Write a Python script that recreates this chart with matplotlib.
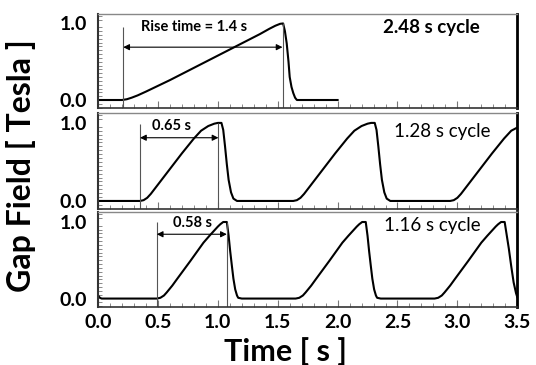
import numpy as np
import matplotlib
matplotlib.use('Agg')
import matplotlib.pyplot as plt
from matplotlib.ticker import MultipleLocator

plt.rcParams['font.family'] = ['Lato', 'DejaVu Sans']

# ── DATA ────────────────────────────────────────────────────────
# 2.48 s cycle
t1 = [0.0, 0.20, 0.24, 0.28, 0.33, 0.40, 0.60, 0.80, 1.00, 1.20, 1.35, 1.43,
      1.48, 1.52, 1.545, 1.56, 1.575, 1.59, 1.60, 1.615, 1.63, 1.645, 1.66, 2.0]
b1 = [0.0, 0.0, 0.01, 0.03, 0.06, 0.11, 0.26, 0.42, 0.58, 0.74, 0.86, 0.93,
      0.97, 0.995, 1.0, 0.90, 0.74, 0.50, 0.30, 0.17, 0.09, 0.03, 0.0, 0.0]

# 1.28 s cycle
t2 = [0.0, 0.35, 0.38, 0.41, 0.44, 0.49, 0.60, 0.70, 0.80, 0.86, 0.92, 0.97,
      1.00, 1.03, 1.045, 1.06, 1.075, 1.09, 1.11, 1.13, 1.16,
      1.63, 1.66, 1.69, 1.72, 1.77, 1.88, 1.98, 2.08, 2.14, 2.20, 2.25,
      2.28, 2.31, 2.325, 2.34, 2.355, 2.37, 2.39, 2.41, 2.44,
      2.94, 2.97, 3.00, 3.03, 3.08, 3.19, 3.29, 3.39, 3.45, 3.50]
b2 = [0.0, 0.0, 0.01, 0.04, 0.09, 0.19, 0.41, 0.61, 0.80, 0.90, 0.96, 0.99,
      1.0, 1.0, 0.91, 0.70, 0.47, 0.27, 0.11, 0.03, 0.0,
      0.0, 0.01, 0.04, 0.09, 0.19, 0.41, 0.61, 0.80, 0.90, 0.96, 0.99,
      1.0, 1.0, 0.91, 0.70, 0.47, 0.27, 0.11, 0.03, 0.0,
      0.0, 0.01, 0.04, 0.09, 0.19, 0.41, 0.61, 0.80, 0.90, 0.94]

# 1.16 s cycle
t3 = [0.0, 0.015, 0.03, 0.49, 0.52, 0.55, 0.573, 0.62, 0.657, 0.77, 0.88, 0.93,
      0.965, 1.00, 1.02, 1.045, 1.075, 1.09, 1.103, 1.117, 1.13, 1.145, 1.16,
      1.17, 1.20,
      1.65, 1.68, 1.71, 1.733, 1.78, 1.817, 1.93, 2.04, 2.09, 2.125, 2.16, 2.18,
      2.205, 2.235, 2.25, 2.263, 2.277, 2.29, 2.305, 2.32, 2.33, 2.36,
      2.81, 2.84, 2.87, 2.893, 2.94, 2.977, 3.09, 3.20, 3.25, 3.285, 3.32, 3.34,
      3.365, 3.395, 3.41, 3.43, 3.45, 3.47, 3.49, 3.50]
b3 = [0.04, 0.01, 0.0, 0.0, 0.01, 0.04, 0.08, 0.17, 0.25, 0.49, 0.73, 0.82,
      0.88, 0.94, 0.97, 1.0, 1.0, 0.82, 0.62, 0.43, 0.26, 0.12, 0.04,
      0.01, 0.0,
      0.0, 0.01, 0.04, 0.08, 0.17, 0.25, 0.49, 0.73, 0.82, 0.88, 0.94, 0.97,
      1.0, 1.0, 0.82, 0.62, 0.43, 0.26, 0.12, 0.04, 0.01, 0.0,
      0.0, 0.01, 0.04, 0.08, 0.17, 0.25, 0.49, 0.73, 0.82, 0.88, 0.94, 0.97,
      1.0, 1.0, 0.85, 0.65, 0.42, 0.21, 0.07, 0.02]

cycle_labels = ['2.48 s cycle', '1.28 s cycle', '1.16 s cycle']
rise_labels = ['Rise time = 1.4 s', '0.65 s', '0.58 s']
rise_start = [0.21, 0.35, 0.49]
rise_end = [1.54, 1.005, 1.075]
x_ticks = [0.0, 0.5, 1.0, 1.5, 2.0, 2.5, 3.0, 3.5]
y_ticks = [0.0, 1.0]

# ── LAYOUT ──────────────────────────────────────────────────────
YLO, YHI = -0.105, 1.125
panels = [  # left, bottom, width, height (figure fraction)
    (0.183, 0.704, 0.782, 0.258),
    (0.183, 0.427, 0.782, 0.263),
    (0.183, 0.160, 0.782, 0.258),
]
cyc_pos = [(2.78, 0.95, 'bold'), (2.87, 0.89, 'normal'), (2.79, 0.95, 'normal')]
rise_txt = [(0.80, 0.95), (0.61, 0.96), (0.79, 0.99)]
arrow_y = [0.69, 0.81, 0.84]
vline_top = [(0.95, 1.0), (0.98, 1.0), (1.0, 1.0)]

fig = plt.figure(figsize=(5.36, 3.65), dpi=100)
series = [(t1, b1), (t2, b2), (t3, b3)]

for i, (t, b) in enumerate(series):
    ax = fig.add_axes(panels[i])
    ax.plot(t, b, color='black', lw=1.5, solid_joinstyle='round')
    ax.set_xlim(0, 3.5)
    ax.set_ylim(YLO, YHI)

    # rise-time markers
    ax.vlines(rise_start[i], YLO, vline_top[i][0], color='#555555', lw=0.8)
    ax.vlines(rise_end[i], YLO, vline_top[i][1], color='#555555', lw=0.8)
    ax.annotate('', xy=(rise_end[i], arrow_y[i]), xytext=(rise_start[i], arrow_y[i]),
                arrowprops=dict(arrowstyle='<|-|>', color='black', lw=0.8,
                                mutation_scale=9, shrinkA=0, shrinkB=0))
    ax.text(rise_txt[i][0], rise_txt[i][1], rise_labels[i], ha='center', va='center',
            fontsize=10.5, fontweight='bold')
    ax.text(cyc_pos[i][0], cyc_pos[i][1], cycle_labels[i], ha='center', va='center',
            fontsize=13.5, fontweight=cyc_pos[i][2])

    # spines
    ax.spines['top'].set_color('#888888')
    ax.spines['top'].set_linewidth(1.0)
    ax.spines['right'].set_color('black')
    ax.spines['right'].set_linewidth(2.0)
    ax.spines['left'].set_color('#333333')
    ax.spines['left'].set_linewidth(1.5)
    ax.spines['bottom'].set_color('#333333')
    ax.spines['bottom'].set_linewidth(1.2)

    # ticks
    ax.set_yticks(y_ticks)
    ax.set_yticklabels([f'{v:.1f}' for v in y_ticks], fontweight='bold')
    ax.yaxis.set_minor_locator(MultipleLocator(0.05))
    ax.set_xticks(x_ticks)
    ax.xaxis.set_minor_locator(MultipleLocator(0.1))
    ax.tick_params(axis='both', which='both', direction='in', color='#777777',
                   top=False, right=False)
    ax.tick_params(axis='y', which='major', length=0, labelsize=14, pad=8)
    ax.tick_params(axis='y', which='minor', length=3, width=0.6)
    ax.tick_params(axis='x', which='major', length=5, width=0.8, labelsize=14, pad=5)
    ax.tick_params(axis='x', which='minor', length=3, width=0.6)
    if i < 2:
        ax.tick_params(axis='x', labelbottom=False)
    else:
        ax.set_xticklabels([f'{v:.1f}' for v in x_ticks], fontweight='bold')

fig.text(0.040, 0.545, 'Gap Field [ Tesla ]', rotation=90, ha='center', va='center',
         fontsize=23, fontweight='bold')
fig.text(0.532, 0.036, 'Time [ s ]', ha='center', va='center',
         fontsize=22, fontweight='bold')

fig.savefig('out.png', dpi=100, facecolor='white')
